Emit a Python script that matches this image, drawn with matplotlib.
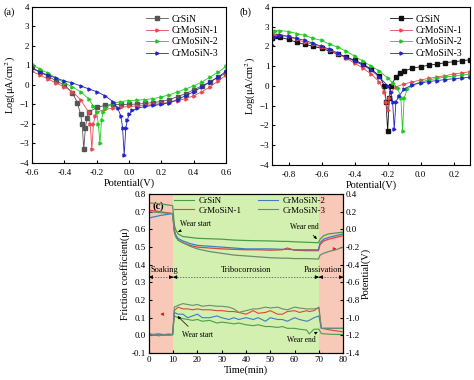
import matplotlib
matplotlib.use("Agg")
import matplotlib.pyplot as plt

plt.rcParams['font.family'] = ['Liberation Serif', 'DejaVu Serif']
plt.rcParams['mathtext.fontset'] = 'stix'
plt.rcParams['font.size'] = 7

names = ["CrSiN", "CrMoSiN-1", "CrMoSiN-2", "CrMoSiN-3"]

# (a) polarization curves, before wear
a_E = {
    "CrSiN": [-0.6, -0.55, -0.5, -0.45, -0.4, -0.35, -0.32, -0.3, -0.29, -0.28, -0.27, -0.26, -0.25, -0.2, -0.15,
              -0.1, -0.05, 0, 0.05, 0.1, 0.15, 0.2, 0.25, 0.3, 0.35, 0.4, 0.45, 0.5, 0.55, 0.6],
    "CrMoSiN-1": [-0.6, -0.55, -0.5, -0.45, -0.4, -0.35, -0.3, -0.25, -0.24, -0.23, -0.22, -0.21, -0.2, -0.15, -0.1,
                  -0.05, 0, 0.05, 0.1, 0.15, 0.2, 0.25, 0.3, 0.35, 0.4, 0.45, 0.5, 0.55, 0.6],
    "CrMoSiN-2": [-0.6, -0.55, -0.5, -0.45, -0.4, -0.35, -0.3, -0.25, -0.22, -0.2, -0.19, -0.18, -0.17, -0.16, -0.15,
                  -0.1, -0.05, 0, 0.05, 0.1, 0.15, 0.2, 0.25, 0.3, 0.35, 0.4, 0.45, 0.5, 0.55, 0.6],
    "CrMoSiN-3": [-0.6, -0.55, -0.5, -0.45, -0.4, -0.35, -0.3, -0.25, -0.2, -0.15, -0.1, -0.07, -0.05, -0.04, -0.03,
                  -0.02, -0.01, 0, 0.02, 0.05, 0.1, 0.15, 0.2, 0.25, 0.3, 0.35, 0.4, 0.45, 0.5, 0.55, 0.6],
}
a_logi = {
    "CrSiN": [0.9, 0.65, 0.45, 0.2, 0.0, -0.4, -0.9, -1.5, -2.0, -3.3, -2.2, -1.7, -1.4, -1.15, -1.05,
              -1.0, -1.0, -1.0, -0.98, -0.95, -0.9, -0.85, -0.75, -0.6, -0.45, -0.25, -0.05, 0.15, 0.4, 0.6],
    "CrMoSiN-1": [0.7, 0.5, 0.3, 0.1, -0.1, -0.35, -0.75, -1.4, -2.0, -3.3, -2.0, -1.6, -1.4, -1.25, -1.2,
                  -1.15, -1.1, -1.08, -1.05, -1.0, -0.95, -0.9, -0.8, -0.7, -0.55, -0.35, -0.1, 0.2, 0.5],
    "CrMoSiN-2": [1.05, 0.8, 0.6, 0.35, 0.1, -0.1, -0.35, -0.7, -1.1, -1.4, -2.0, -3.0, -1.8, -1.4, -1.2,
                  -0.95, -0.85, -0.8, -0.78, -0.75, -0.7, -0.62, -0.5, -0.35, -0.2, -0.05, 0.15, 0.4, 0.65, 0.95],
    "CrMoSiN-3": [0.85, 0.65, 0.5, 0.35, 0.2, 0.1, -0.05, -0.2, -0.35, -0.55, -0.85, -1.2, -1.6, -2.2, -3.6,
                  -2.2, -1.8, -1.5, -1.3, -1.2, -1.1, -1.05, -1.0, -0.9, -0.75, -0.55, -0.35, -0.1, 0.15, 0.4, 0.7],
}

# (b) polarization curves, during wear
b_E = {
    "CrSiN": [-0.9, -0.88, -0.85, -0.8, -0.75, -0.7, -0.65, -0.6, -0.55, -0.5, -0.45, -0.4, -0.35, -0.3, -0.25,
              -0.22, -0.21, -0.2, -0.19, -0.18, -0.15, -0.125, -0.1, -0.05, 0, 0.05, 0.1, 0.15, 0.2, 0.25, 0.3],
    "CrMoSiN-1": [-0.9, -0.88, -0.85, -0.8, -0.75, -0.7, -0.65, -0.6, -0.55, -0.5, -0.45, -0.4, -0.35, -0.3, -0.25,
                  -0.22, -0.21, -0.2, -0.19, -0.18, -0.15, -0.1, -0.05, 0, 0.05, 0.1, 0.15, 0.2, 0.25, 0.3],
    "CrMoSiN-2": [-0.9, -0.88, -0.85, -0.8, -0.75, -0.7, -0.65, -0.6, -0.55, -0.5, -0.45, -0.4, -0.35, -0.3, -0.25,
                  -0.2, -0.17, -0.14, -0.12, -0.11, -0.1, -0.08, -0.05, 0, 0.05, 0.1, 0.15, 0.2, 0.25, 0.3],
    "CrMoSiN-3": [-0.9, -0.89, -0.85, -0.8, -0.75, -0.7, -0.65, -0.6, -0.55, -0.5, -0.45, -0.4, -0.35, -0.3, -0.25,
                  -0.2, -0.18, -0.17, -0.16, -0.15, -0.13, -0.1, -0.05, 0, 0.05, 0.1, 0.15, 0.2, 0.25, 0.3],
}
b_logi = {
    "CrSiN": [2.4, 2.5, 2.45, 2.35, 2.2, 2.1, 2.0, 1.9, 1.75, 1.6, 1.45, 1.3, 1.1, 0.85, 0.5,
              0.0, -0.8, -2.3, -0.6, 0.0, 0.45, 0.65, 0.75, 0.9, 0.97, 1.05, 1.1, 1.18, 1.22, 1.27, 1.32],
    "CrMoSiN-1": [2.5, 2.55, 2.6, 2.5, 2.35, 2.2, 2.1, 1.95, 1.8, 1.6, 1.4, 1.15, 0.9, 0.6, 0.2,
                  -0.3, -0.8, -1.2, -0.6, -0.3, -0.05, 0.1, 0.2, 0.3, 0.38, 0.45, 0.52, 0.6, 0.66, 0.72],
    "CrMoSiN-2": [2.7, 2.78, 2.8, 2.75, 2.65, 2.55, 2.4, 2.3, 2.1, 1.95, 1.75, 1.5, 1.25, 1.0, 0.75,
                  0.4, 0.15, -0.1, -0.6, -2.3, -0.6, -0.15, 0.05, 0.2, 0.3, 0.38, 0.45, 0.5, 0.55, 0.6],
    "CrMoSiN-3": [2.05, 2.45, 2.55, 2.5, 2.4, 2.3, 2.15, 2.0, 1.85, 1.65, 1.45, 1.25, 1.05, 0.8, 0.45,
                  0.0, -0.3, -0.8, -2.2, -0.8, -0.5, -0.15, 0.05, 0.15, 0.22, 0.27, 0.32, 0.36, 0.4, 0.44],
}

# (c) open circuit potential (V) and friction coefficient vs time (min)
ocp_t = [0, 5, 9.8, 10.5, 11, 12, 14, 17, 20, 25, 30, 35, 40, 45, 50, 55, 57, 60, 65, 69.8, 70.5, 72, 74, 77, 80]
ocp = {
    "CrSiN": [0.30, 0.29, 0.27, 0.05, 0.0, -0.05, -0.08, -0.09, -0.10, -0.105, -0.11, -0.12, -0.125, -0.128,
              -0.13, -0.135, -0.135, -0.14, -0.145, -0.15, -0.11, -0.07, -0.05, -0.04, -0.03],
    "CrMoSiN-1": [0.22, 0.20, 0.18, 0.0, -0.06, -0.12, -0.15, -0.18, -0.20, -0.21, -0.22, -0.225, -0.23, -0.23,
                  -0.235, -0.23, -0.21, -0.235, -0.24, -0.24, -0.17, -0.13, -0.11, -0.09, -0.07],
    "CrMoSiN-2": [0.13, 0.16, 0.18, -0.02, -0.06, -0.10, -0.13, -0.16, -0.18, -0.19, -0.20, -0.21, -0.22, -0.22,
                  -0.22, -0.225, -0.225, -0.23, -0.23, -0.23, -0.15, -0.11, -0.09, -0.07, -0.05],
    "CrMoSiN-3": [0.20, 0.19, 0.18, -0.03, -0.08, -0.12, -0.15, -0.19, -0.22, -0.25, -0.27, -0.29, -0.30, -0.31,
                  -0.32, -0.325, -0.325, -0.33, -0.33, -0.335, -0.29, -0.27, -0.25, -0.23, -0.20],
}
cof_t = [0, 2, 4, 6, 8, 9.8, 10.5, 12, 14, 16, 18, 20, 22, 25, 28, 30, 33, 35, 37, 40, 43, 45, 48, 50, 53, 55,
         57, 60, 62, 65, 66, 68, 70, 71, 75, 80]
cof = {
    "CrSiN": [0.0, 0.004, -0.003, 0.002, 0.0, 0.003, 0.11, 0.10, 0.095, 0.09, 0.085, 0.09, 0.08, 0.085, 0.07,
              0.075, 0.07, 0.065, 0.07, 0.06, 0.055, 0.06, 0.05, 0.05, 0.045, 0.05, 0.04, 0.04, 0.035, 0.03,
              0.008, 0.035, 0.035, 0.01, 0.006, 0.005],
    "CrMoSiN-1": [0.005, 0.0, 0.004, 0.002, 0.006, 0.004, 0.14, 0.16, 0.15, 0.15, 0.145, 0.15, 0.145, 0.145, 0.14,
                  0.14, 0.135, 0.135, 0.13, 0.12, 0.14, 0.125, 0.13, 0.14, 0.12, 0.12, 0.135, 0.14, 0.13, 0.14,
                  0.135, 0.14, 0.16, 0.04, 0.03, 0.02],
    "CrMoSiN-2": [0.008, 0.006, 0.009, 0.005, 0.007, 0.006, 0.13, 0.12, 0.12, 0.10, 0.11, 0.12, 0.10, 0.10, 0.11,
                  0.10, 0.09, 0.10, 0.09, 0.10, 0.09, 0.10, 0.08, 0.10, 0.09, 0.09, 0.08, 0.10, 0.09, 0.08,
                  0.085, 0.10, 0.11, 0.04, 0.04, 0.04],
    "CrMoSiN-3": [0.002, 0.005, 0.001, 0.004, 0.002, 0.004, 0.16, 0.17, 0.18, 0.175, 0.17, 0.175, 0.165, 0.17,
                  0.165, 0.165, 0.16, 0.15, 0.13, 0.14, 0.15, 0.15, 0.16, 0.155, 0.16, 0.15, 0.145, 0.16, 0.155,
                  0.15, 0.15, 0.15, 0.155, 0.04, 0.04, 0.04],
}

ab_colors = {"CrSiN": "#555555", "CrMoSiN-1": "#e84850", "CrMoSiN-2": "#22c822", "CrMoSiN-3": "#2424c8"}
ab_markers = {"CrSiN": "s", "CrMoSiN-1": ">", "CrMoSiN-2": ">", "CrMoSiN-3": ">"}
c_colors = {"CrSiN": "#4a9e4a", "CrMoSiN-1": "#e0443c", "CrMoSiN-2": "#3a80c0", "CrMoSiN-3": "#6a8c70"}

fig = plt.figure(figsize=(4.74, 3.80), dpi=100)
ax_a = fig.add_axes([0.0675, 0.571, 0.4095, 0.411])
ax_b = fig.add_axes([0.574, 0.566, 0.418, 0.416])
ax_c = fig.add_axes([0.314, 0.071, 0.41, 0.418])


def tafel(ax, E, logi, xlim, xticks, colors):
    for n in names:
        ax.plot(E[n], logi[n], color=colors[n], marker=ab_markers[n], markersize=2.2, lw=0.6, label=n)
    ax.set_xlim(*xlim)
    ax.set_ylim(-4, 4)
    ax.set_xticks(xticks)
    ax.set_yticks(range(-4, 5))
    ax.set_xticklabels(["%.1f" % v for v in xticks])
    ax.tick_params(direction="in", length=2.5, labelsize=6.5, pad=2)
    ax.tick_params(axis="x", pad=4.5)
    ax.set_xlabel("Potential(V)", fontsize=7.5, labelpad=1)
    ax.set_ylabel("Log(μA/cm$^2$)", fontsize=7.5, labelpad=1)
    ax.legend(loc="upper right", frameon=False, fontsize=7, handlelength=2.2, labelspacing=0.25,
              borderaxespad=0.4, handletextpad=0.4)


tafel(ax_a, a_E, a_logi, (-0.6, 0.6), [-0.6, -0.4, -0.2, 0.0, 0.2, 0.4, 0.6], ab_colors)
b_colors = dict(ab_colors)
b_colors["CrSiN"] = "#111111"
tafel(ax_b, b_E, b_logi, (-0.9, 0.3), [-0.8, -0.6, -0.4, -0.2, 0.0, 0.2], b_colors)
fig.text(0.008, 0.962, "(a)", fontsize=7.5)
fig.text(0.505, 0.962, "(b)", fontsize=7.5)

# (c)
ax_c.axvspan(0, 10, color="#f8c8b8", lw=0)
ax_c.axvspan(10, 70, color="#d4f0b0", lw=0)
ax_c.axvspan(70, 80, color="#f8c8b8", lw=0)
ax_p = ax_c.twinx()
for n in names:
    ax_c.plot(cof_t, cof[n], color=c_colors[n], lw=0.8, label=n)
    ax_p.plot(ocp_t, ocp[n], color=c_colors[n], lw=0.9)
ax_c.set_xlim(0, 80)
ax_c.set_ylim(-0.1, 0.8)
ax_p.set_ylim(-1.4, 0.4)
ax_c.set_xticks(range(0, 81, 10))
ax_c.set_yticks([-0.1, 0.0, 0.1, 0.2, 0.3, 0.4, 0.5, 0.6, 0.7, 0.8])
ax_c.set_yticklabels(["%.1f" % v for v in ax_c.get_yticks()])
ax_p.set_yticks([-1.4, -1.2, -1.0, -0.8, -0.6, -0.4, -0.2, 0.0, 0.2, 0.4])
ax_p.set_yticklabels(["%.1f" % v for v in ax_p.get_yticks()])
for ax in (ax_c, ax_p):
    ax.tick_params(direction="in", length=2.5, labelsize=6.5, pad=2)
ax_c.set_xlabel("Time(min)", fontsize=7.5, labelpad=1)
ax_c.set_ylabel("Friction coefficient(μ)", fontsize=7.5, labelpad=1)
ax_p.set_ylabel("Potential(V)", fontsize=7.5, labelpad=1)
ax_c.legend(loc="upper center", ncol=2, frameon=False, fontsize=6.5, handlelength=2.2, labelspacing=0.1,
            columnspacing=1.8, borderaxespad=0.1, handletextpad=0.5, bbox_to_anchor=(0.52, 1.01))
ax_c.text(1.5, 0.715, "(c)", fontsize=7.5, fontweight="bold")

# stage markers
ax_c.plot([0, 80], [0.33, 0.33], color="#444444", lw=0.5, ls=(0, (2, 2)))
for x0, x1 in [(0, 10), (10, 70), (70, 80)]:
    ax_c.annotate("", xy=(x0, 0.33), xytext=(x0 + 1.8, 0.33),
                  arrowprops=dict(arrowstyle="-|>", color="black", lw=0.6, mutation_scale=5))
    ax_c.annotate("", xy=(x1, 0.33), xytext=(x1 - 1.8, 0.33),
                  arrowprops=dict(arrowstyle="-|>", color="black", lw=0.6, mutation_scale=5))
ax_c.text(0.5, 0.36, "Soaking", fontsize=6)
ax_c.text(40, 0.36, "Tribocorrosion", fontsize=6, ha="center")
ax_c.text(79.8, 0.36, "Passivation", fontsize=6, ha="right")

arr = dict(arrowstyle="-|>", color="black", lw=0.5, mutation_scale=4)
ax_c.annotate("Wear start", xy=(11, 0.58), xytext=(13, 0.62), fontsize=5.5, arrowprops=arr)
ax_c.annotate("Wear end", xy=(70, 0.535), xytext=(58, 0.605), fontsize=5.5, arrowprops=arr)
ax_c.annotate("Wear start", xy=(11, 0.12), xytext=(13.5, -0.01), fontsize=5.5, arrowprops=arr)
ax_c.annotate("Wear end", xy=(69.5, 0.02), xytext=(57, -0.04), fontsize=5.5, arrowprops=arr)
red = dict(arrowstyle="-|>", color="#e02020", lw=0.8, mutation_scale=4)
ax_c.annotate("", xy=(3.5, 0.12), xytext=(7, 0.12), arrowprops=red)
ax_c.annotate("", xy=(78.5, 0.49), xytext=(75, 0.49), arrowprops=red)

fig.savefig("out.png", dpi=100)
